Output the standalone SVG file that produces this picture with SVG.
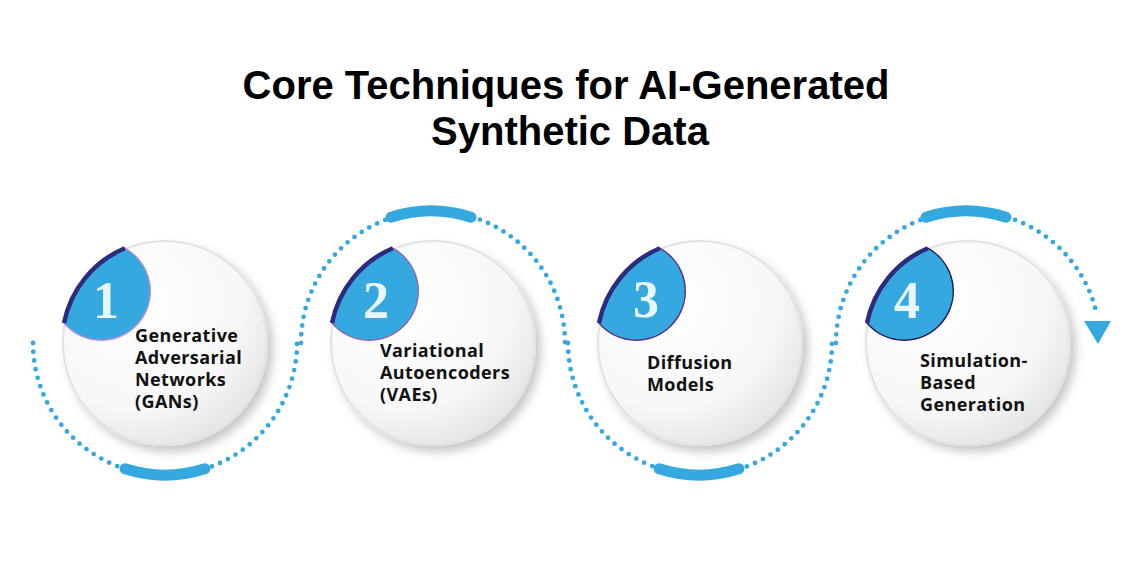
<svg xmlns="http://www.w3.org/2000/svg" width="1142" height="588" viewBox="0 0 1142 588">
<defs>
  <radialGradient id="disc" cx="35%" cy="30%" r="75%">
    <stop offset="0" stop-color="#ffffff"/>
    <stop offset="0.7" stop-color="#f7f7f7"/>
    <stop offset="1" stop-color="#e4e4e4"/>
  </radialGradient>
  <filter id="shadow" x="-20%" y="-20%" width="150%" height="150%">
    <feDropShadow dx="5" dy="6" stdDeviation="5" flood-color="#000000" flood-opacity="0.22"/>
  </filter>
  <style>
    .disc { fill: url(#disc); filter: url(#shadow); }
    .rim { fill: none; stroke: #e2e2e2; stroke-width: 2; }
    .badge { fill: #36a8e0; }
    .outer { fill: none; stroke: #2c2b7e; stroke-width: 4.5; }
    .num { font-family: "Liberation Serif", serif; font-weight: bold; font-size: 52px; fill: #eaf6fd; text-anchor: middle; }
    .label { font-family: "Open Sans", "Liberation Sans", sans-serif; font-weight: bold; font-size: 18px; letter-spacing: 0.4px; fill: #111111; }
    .title { font-family: "Liberation Sans", Arial, sans-serif; font-weight: bold; font-size: 40px; fill: #000000; text-anchor: middle; }
    .dots { fill: none; stroke: #36a8e0; stroke-width: 4.8; stroke-linecap: round; stroke-dasharray: 0 8.8; }
    .thick { fill: none; stroke: #36a8e0; stroke-width: 11; stroke-linecap: round; }
  </style>
</defs>
<rect width="1142" height="588" fill="#ffffff"/>

<g id="title">
  <text class="title" x="566" y="99">Core Techniques for AI-Generated</text>
  <text class="title" x="570" y="145">Synthetic Data</text>
</g>

<g id="connectors">
  <path class="dots" d="M 33 343 A 132 132 0 0 0 297 343"/>
  <path class="dots" d="M 301 343 A 132 132 0 0 1 565 343"/>
  <path class="dots" d="M 568 343 A 132 132 0 0 0 832 343"/>
  <path class="dots" d="M 836 343 A 132 132 0 0 1 1096.7 313.8"/>
  <path class="thick" d="M 125 468.8 A 132 132 0 0 0 205 468.8"/>
  <path class="thick" d="M 391 217.2 A 132 132 0 0 1 471 217.2"/>
  <path class="thick" d="M 659 468.8 A 132 132 0 0 0 739 468.8"/>
  <path class="thick" d="M 926 217.2 A 132 132 0 0 1 1006 217.2"/>
  <polygon points="1084,321 1111,321 1098,344" fill="#36a8e0"/>
</g>

<g id="node1">
  <circle class="disc" cx="165" cy="343" r="103"/>
  <circle class="rim" cx="165" cy="343" r="102"/>
  <g transform="translate(165,343)">
    <path class="badge" d="M -40.2 -94.8 A 103 103 0 0 0 -101 -20 A 49 49 0 1 0 -40.2 -94.8 Z" stroke="#b08fd6" stroke-width="1.5"/>
    <path class="outer" d="M -40.2 -94.8 A 103 103 0 0 0 -101 -20"/>
  </g>
  <text class="num" x="106" y="318">1</text>
  <text class="label" x="135" y="342">Generative</text>
  <text class="label" x="135" y="364">Adversarial</text>
  <text class="label" x="135" y="386">Networks</text>
  <text class="label" x="135" y="408">(GANs)</text>
</g>

<g id="node2">
  <circle class="disc" cx="433" cy="343" r="103"/>
  <circle class="rim" cx="433" cy="343" r="102"/>
  <g transform="translate(433,343)">
    <path class="badge" d="M -40.2 -94.8 A 103 103 0 0 0 -101 -20 A 49 49 0 1 0 -40.2 -94.8 Z" stroke="#8a68b8" stroke-width="1.5"/>
    <path class="outer" d="M -40.2 -94.8 A 103 103 0 0 0 -101 -20"/>
  </g>
  <text class="num" x="376" y="318">2</text>
  <text class="label" x="380" y="357">Variational</text>
  <text class="label" x="380" y="379">Autoencoders</text>
  <text class="label" x="380" y="401">(VAEs)</text>
</g>

<g id="node3">
  <circle class="disc" cx="700" cy="343" r="103"/>
  <circle class="rim" cx="700" cy="343" r="102"/>
  <g transform="translate(700,343)">
    <path class="badge" d="M -40.2 -94.8 A 103 103 0 0 0 -101 -20 A 49 49 0 1 0 -40.2 -94.8 Z" stroke="#5b2f82" stroke-width="1.5"/>
    <path class="outer" d="M -40.2 -94.8 A 103 103 0 0 0 -101 -20"/>
  </g>
  <text class="num" x="646" y="317">3</text>
  <text class="label" x="647" y="369">Diffusion</text>
  <text class="label" x="647" y="391">Models</text>
</g>

<g id="node4">
  <circle class="disc" cx="968" cy="343" r="103"/>
  <circle class="rim" cx="968" cy="343" r="102"/>
  <g transform="translate(968,343)">
    <path class="badge" d="M -40.2 -94.8 A 103 103 0 0 0 -101 -20 A 49 49 0 1 0 -40.2 -94.8 Z" stroke="#261d55" stroke-width="1.5"/>
    <path class="outer" d="M -40.2 -94.8 A 103 103 0 0 0 -101 -20"/>
  </g>
  <text class="num" x="907" y="318">4</text>
  <text class="label" x="920" y="367">Simulation-</text>
  <text class="label" x="920" y="389">Based</text>
  <text class="label" x="920" y="411">Generation</text>
</g>
</svg>
